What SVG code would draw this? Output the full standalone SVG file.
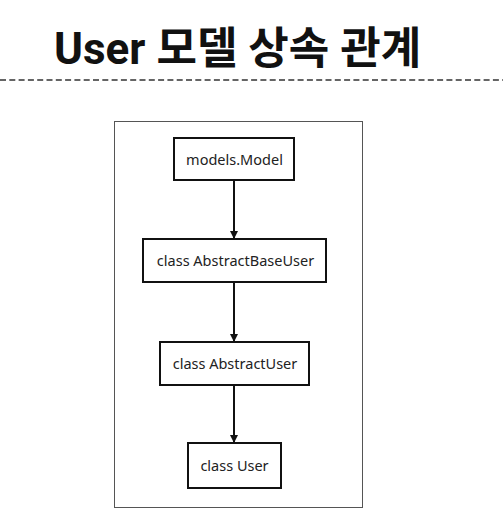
<svg xmlns="http://www.w3.org/2000/svg" width="503" height="526" viewBox="0 0 503 526">
<defs>
<style>
.title{font-family:Roboto,"Noto Sans CJK KR",sans-serif;font-weight:700;font-size:44px;fill:#111}
.box{fill:#fff;stroke:#111;stroke-width:2}
.lbl{font-family:"Noto Sans","DejaVu Sans",sans-serif;font-size:14.5px;fill:#222;text-anchor:middle}
.edge{stroke:#111;stroke-width:2;fill:none}
</style>
<marker id="arr" viewBox="0 0 8 8" refX="8" refY="4" markerWidth="4" markerHeight="4" markerUnits="strokeWidth" orient="auto">
<path d="M0,0 L8,4 L0,8 Z" fill="#111"/>
</marker>
</defs>
<rect width="503" height="526" fill="#fff"/>
<text class="title" x="54" y="64">User 모델 상속 관계</text>
<line x1="0" y1="80" x2="503" y2="80" stroke="#333" stroke-width="1.5" stroke-dasharray="6,3.3"/>
<rect id="frame" x="114.5" y="121.5" width="248" height="386" fill="none" stroke="#555" stroke-width="1"/>
<g id="connectors">
<line class="edge" x1="234" y1="180" x2="234" y2="239" marker-end="url(#arr)"/>
<line class="edge" x1="234" y1="282" x2="234" y2="342" marker-end="url(#arr)"/>
<line class="edge" x1="234" y1="385" x2="234" y2="443" marker-end="url(#arr)"/>
</g>
<g id="n1">
<rect class="box" x="174" y="138" width="120" height="42"/>
<text class="lbl" x="234.5" y="164.5">models.Model</text>
</g>
<g id="n2">
<rect class="box" x="143" y="239" width="183" height="43"/>
<text class="lbl" x="235.5" y="266">class AbstractBaseUser</text>
</g>
<g id="n3">
<rect class="box" x="160" y="342" width="149" height="43"/>
<text class="lbl" x="235" y="369">class AbstractUser</text>
</g>
<g id="n4">
<rect class="box" x="188" y="443" width="93" height="45"/>
<text class="lbl" x="234.5" y="471">class User</text>
</g>
</svg>
